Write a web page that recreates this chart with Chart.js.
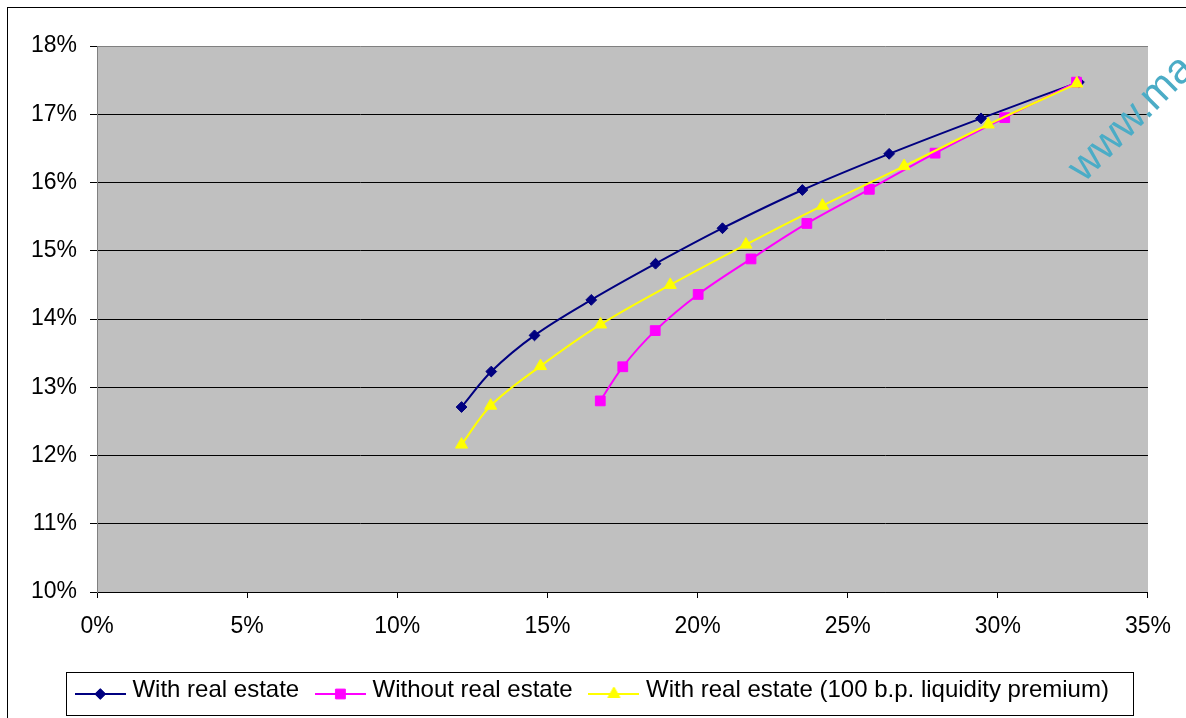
<!DOCTYPE html>
<html>
<head>
<meta charset="utf-8">
<script src="https://cdn.jsdelivr.net/npm/chart.js@4/dist/chart.umd.min.js"></script>
<style>
  html, body { margin: 0; padding: 0; background: #ffffff; }
  #wrap { width: 1186px; height: 718px; }
</style>
</head>
<body>
<div id="wrap"><canvas id="chart" width="1186" height="718"></canvas></div>
<script>
// Efficient frontiers: risk (standard deviation, %) vs expected return (%)
const seriesNames = [
  'With real estate',
  'Without real estate',
  'With real estate (100 b.p. liquidity premium)'
];

const withRealEstateRisk   = [12.14, 13.13, 14.57, 16.46, 18.60, 20.83, 23.49, 26.38, 29.44, 32.70];
const withRealEstateReturn = [12.71, 13.23, 13.76, 14.28, 14.81, 15.33, 15.89, 16.42, 16.94, 17.47];

const withoutRealEstateRisk   = [16.76, 17.51, 18.59, 20.02, 21.78, 23.64, 25.72, 27.91, 30.23, 32.62];
const withoutRealEstateReturn = [12.80, 13.30, 13.83, 14.36, 14.88, 15.40, 15.90, 16.43, 16.95, 17.47];

const liquidityPremiumRisk   = [12.14, 13.11, 14.77, 16.77, 19.09, 21.61, 24.16, 26.88, 29.68, 32.63];
const liquidityPremiumReturn = [12.16, 12.73, 13.31, 13.92, 14.50, 15.09, 15.66, 16.24, 16.85, 17.45];

const xTickValues = [0, 5, 10, 15, 20, 25, 30, 35];
const yTickValues = [10, 11, 12, 13, 14, 15, 16, 17, 18];

const seriesColors = ['#000080', '#FF00FF', '#FFFF00'];
const seriesMarkers = ['rectRot', 'rect', 'triangle'];
const markerRadius = [5.4, 6.9, 7];

const toPoints = (xs, ys) => xs.map((x, i) => ({ x: x, y: ys[i] }));

const seriesData = [
  toPoints(withRealEstateRisk, withRealEstateReturn),
  toPoints(withoutRealEstateRisk, withoutRealEstateReturn),
  toPoints(liquidityPremiumRisk, liquidityPremiumReturn)
];

const tickFont = { family: '"Liberation Sans", Arial, sans-serif', size: 23 };
const legendFont = { family: '"Liberation Sans", Arial, sans-serif', size: 24 };

// Small line-plus-marker swatch used as the legend symbol
function legendSwatch(i) {
  const cv = document.createElement('canvas');
  cv.width = 51; cv.height = 24;
  const g = cv.getContext('2d');
  g.strokeStyle = seriesColors[i];
  g.fillStyle = seriesColors[i];
  g.lineWidth = 2;
  g.beginPath(); g.moveTo(0, 16); g.lineTo(51, 16); g.stroke();
  g.lineWidth = 1;
  Chart.helpers.drawPoint(g, { pointStyle: seriesMarkers[i], radius: markerRadius[i], borderWidth: 1, rotation: 0 }, 25.5, 16);
  return cv;
}
const swatches = seriesNames.map((_, i) => legendSwatch(i));

const framePlugin = {
  id: 'frame',
  afterLayout(chart) {
    // nudge the legend row slightly right so it sits inside its frame
    const lg = chart.legend;
    if (lg) { lg.left += 5; lg.right += 5; }
  },
  beforeDraw(chart) {
    const { ctx, chartArea: a } = chart;
    ctx.save();
    ctx.fillStyle = '#ffffff';
    ctx.fillRect(0, 0, chart.width, chart.height);
    ctx.strokeStyle = '#000000';
    ctx.lineWidth = 1;
    ctx.strokeRect(7.5, 7.5, chart.width + 20, chart.height + 20);
    ctx.fillStyle = '#C0C0C0';
    ctx.fillRect(a.left, a.top, a.right - a.left, a.bottom - a.top);
    ctx.restore();
  },
  afterDraw(chart) {
    const { ctx } = chart;
    ctx.save();
    // legend frame
    ctx.strokeStyle = '#000000';
    ctx.lineWidth = 1;
    ctx.strokeRect(66.5, 672.5, 1067, 43);
    // site mark
    ctx.translate(1084, 183);
    ctx.rotate(-45 * Math.PI / 180);
    ctx.fillStyle = '#4BACC6';
    ctx.font = '42px "Liberation Sans", Arial, sans-serif';
    ctx.textBaseline = 'alphabetic';
    ctx.fillText('www.ma', 0, 0);
    ctx.restore();
  }
};

new Chart(document.getElementById('chart'), {
  type: 'line',
  data: {
    datasets: seriesNames.map((name, i) => ({
      label: name,
      data: seriesData[i],
      borderColor: seriesColors[i],
      backgroundColor: seriesColors[i],
      pointBackgroundColor: seriesColors[i],
      pointBorderColor: seriesColors[i],
      pointBorderWidth: 1,
      pointStyle: seriesMarkers[i],
      pointRadius: markerRadius[i],
      pointHoverRadius: markerRadius[i],
      borderWidth: 2,
      tension: 0.35,
      fill: false,
      order: 3 - i
    }))
  },
  options: {
    responsive: false,
    animation: false,
    devicePixelRatio: 1,
    layout: { padding: { left: 30, top: 46, right: 37, bottom: 6 } },
    plugins: {
      tooltip: { enabled: false },
      legend: {
        position: 'bottom',
        labels: {
          usePointStyle: true,
          pointStyleWidth: 40.4,
          padding: 21,
          color: '#000000',
          font: legendFont,
          generateLabels: () => seriesNames.map((name, i) => ({
            text: name,
            pointStyle: swatches[i],
            fillStyle: seriesColors[i],
            strokeStyle: seriesColors[i],
            lineWidth: 0,
            hidden: false,
            datasetIndex: i
          }))
        }
      }
    },
    scales: {
      x: {
        type: 'linear',
        min: 0,
        max: 35,
        afterBuildTicks: (s) => { s.ticks = xTickValues.map(v => ({ value: v })); },
        afterFit: (s) => { s.height = 65; },
        ticks: { callback: (v) => v + '%', color: '#000000', font: tickFont, padding: 15, maxRotation: 0 },
        grid: { drawOnChartArea: false, drawTicks: true, tickLength: 6, tickColor: '#000000' },
        border: { display: true, color: '#000000', width: 1 }
      },
      y: {
        type: 'linear',
        min: 10,
        max: 18,
        afterBuildTicks: (s) => { s.ticks = yTickValues.map(v => ({ value: v })); },
        afterFit: (s) => { s.width = 67; },
        ticks: { callback: (v) => v + '%', color: '#000000', font: tickFont, padding: 13 },
        grid: {
          color: (c) => (c.tick && c.tick.value === 18 ? '#808080' : '#000000'),
          tickColor: '#000000',
          tickLength: 7,
          lineWidth: 1
        },
        border: { display: true, color: '#808080', width: 1 }
      }
    }
  },
  plugins: [framePlugin]
});
</script>
</body>
</html>
